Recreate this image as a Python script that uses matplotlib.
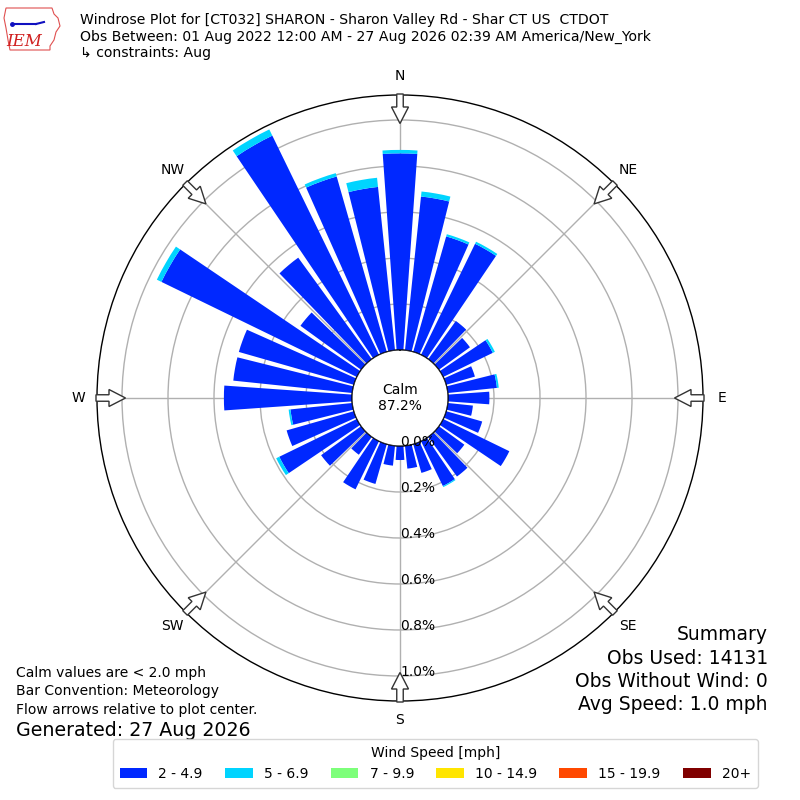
import numpy as np
import matplotlib
matplotlib.use('Agg')
import matplotlib.pyplot as plt
from matplotlib.patches import FancyArrow, Circle, Polygon, Patch

# ---------------- data ----------------
directions = np.arange(0, 360, 10)  # degrees, meteorological "from"
speed_labels = ['2 - 4.9', '5 - 6.9', '7 - 9.9', '10 - 14.9', '15 - 19.9', '20+']
speed_colors = ['#0028ff', '#00d4ff', '#7dff7a', '#ffe500', '#ff4800', '#800000']

# frequency (%) per direction for each speed bin
spd_2_5 = [0.855, 0.672, 0.522, 0.537, 0.205, 0.167, 0.240, 0.130, 0.215,
           0.180, 0.110, 0.163, 0.320, 0.137, 0.213, 0.217, 0.130, 0.100,
           0.061, 0.087, 0.180, 0.233, 0.096, 0.215, 0.375, 0.304, 0.270,
           0.557, 0.520, 0.520, 0.945, 0.326, 0.545, 1.060, 0.793, 0.714]
spd_5_7 = [0.015, 0.022, 0.010, 0.010, 0.0, 0.0, 0.010, 0.0, 0.008,
           0.0, 0.0, 0.0, 0.0, 0.0, 0.0, 0.005, 0.0, 0.0,
           0.0, 0.0, 0.0, 0.0, 0.0, 0.0, 0.015, 0.0, 0.008,
           0.0, 0.0, 0.0, 0.022, 0.0, 0.0, 0.030, 0.015, 0.040]
spd_7_10 = [0.0] * 36
spd_10_15 = [0.0] * 36
spd_15_20 = [0.0] * 36
spd_20p = [0.0] * 36

ring_values = [0.0, 0.2, 0.4, 0.6, 0.8, 1.0]
compass_angles = [0, 45, 90, 135, 180, 225, 270, 315]
compass_labels = ['N', 'NE', 'E', 'SE', 'S', 'SW', 'W', 'NW']

calm_pct = 87.2
title_lines = ['Windrose Plot for [CT032] SHARON - Sharon Valley Rd - Shar CT US  CTDOT',
               'Obs Between: 01 Aug 2022 12:00 AM - 27 Aug 2026 02:39 AM America/New_York',
               '\u21b3 constraints: Aug']
left_notes = ['Calm values are < 2.0 mph', 'Bar Convention: Meteorology',
              'Flow arrows relative to plot center.']
generated = 'Generated: 27 Aug 2026'
summary_lines = ['Summary', 'Obs Used: 14131', 'Obs Without Wind: 0', 'Avg Speed: 1.0 mph']

# ---------------- figure ----------------
fig = plt.figure(figsize=(8, 8), dpi=100)
W = H = 800.0
cx, cy = 400.0, 398.0          # plot centre in pixels (from top-left)
R = 303.0                       # outer radius in pixels
r0 = 48.0                       # calm circle radius in pixels
ppu = 230.0                     # pixels per 1 %
rorig = r0 / ppu
rmax = R / ppu - rorig

ax = fig.add_axes([(cx - R) / W, (H - cy - R) / H, 2 * R / W, 2 * R / H],
                  projection='polar')
ax.set_theta_zero_location('N')
ax.set_theta_direction(-1)
ax.set_rorigin(-rorig)
ax.set_ylim(0, rmax)

series = [spd_2_5, spd_5_7, spd_7_10, spd_10_15, spd_15_20, spd_20p]
theta = np.deg2rad(directions)
bottom = np.zeros(len(directions))
for vals, col in zip(series, speed_colors):
    vals = np.asarray(vals)
    ax.bar(theta, vals, width=np.deg2rad(8.1), bottom=bottom, color=col,
           edgecolor='none', zorder=3)
    bottom += vals

ax.set_rticks(ring_values[1:])
ax.set_yticklabels([])
ax.set_thetagrids(compass_angles, labels=[''] * len(compass_angles))
ax.grid(True, color='#b0b0b0', lw=1.0)
ax.spines['polar'].set_color('black')
ax.spines['polar'].set_linewidth(1.0)

for v in ring_values:
    ax.text(np.pi, v, f'{v:.1f}%', ha='left', va='baseline', fontsize=10,
            zorder=8)

lab_r = 322.0 / ppu - rorig
for a, lab in zip(compass_angles, compass_labels):
    ax.text(np.deg2rad(a), lab_r, lab, ha='center', va='center', fontsize=10,
            clip_on=False)

# calm circle
calm = Circle((0.5, 0.5), r0 / (2 * R), transform=ax.transAxes, fc='white',
              ec='black', lw=1.0, zorder=6)
ax.add_patch(calm)
ax.text(0.5, 0.5, f'Calm\n{calm_pct:.1f}%', transform=ax.transAxes,
        ha='center', va='center', fontsize=10, zorder=7, linespacing=1.25)

# flow arrows (hollow)
fcx, fcy = cx / W, (H - cy) / H
for a in compass_angles:
    s, c = np.sin(np.deg2rad(a)), np.cos(np.deg2rad(a))
    x0 = fcx + s * 304 / W
    y0 = fcy + c * 304 / H
    L = 29.5
    arr = FancyArrow(x0, y0, -s * L / W, -c * L / H, width=6.5 / W,
                     head_width=17 / W, head_length=16.5 / W,
                     length_includes_head=True, fc='white', ec='#333333',
                     lw=1.0, transform=fig.transFigure, zorder=10)
    fig.add_artist(arr)

# title text
for i, line in enumerate(title_lines):
    fig.text(80 / W, 1 - (20 + 16.5 * i) / H, line, ha='left', va='center',
             fontsize=10.1)

# bottom-left notes
for i, line in enumerate(left_notes):
    fig.text(16 / W, 1 - (673 + 18.5 * i) / H, line, ha='left', va='center',
             fontsize=10)
fig.text(16 / W, 1 - 730 / H, generated, ha='left', va='center', fontsize=13.7)

# summary
for i, line in enumerate(summary_lines):
    fig.text(768 / W, 1 - (635 + 23.3 * i) / H, line, ha='right', va='center',
             fontsize=13.5)

# legend
handles = [Patch(facecolor=c, edgecolor='none') for c in speed_colors]
leg = fig.legend(handles, speed_labels, ncol=6, loc='lower center',
                 bbox_to_anchor=(0.544, 12 / H), title='Wind Speed [mph]',
                 fontsize=10, title_fontsize=10, frameon=True,
                 handlelength=2.0, columnspacing=1.6, borderpad=0.5,
                 borderaxespad=0.0)
leg.get_frame().set_edgecolor('#cccccc')

# simple IEM logo stand-in
lax = fig.add_axes([0.0, 1 - 52 / H, 66 / W, 48 / H])
lax.set_xlim(0, 66)
lax.set_ylim(0, 48)
lax.axis('off')
iowa = Polygon([(6, 44), (52, 44), (54, 38), (58, 34), (60, 26), (56, 20),
                (54, 12), (50, 6), (50, 2), (10, 2), (8, 12), (6, 24), (4, 34)],
               closed=True, fc='white', ec='#e05050', lw=0.8)
lax.add_patch(iowa)
lax.plot([14, 36], [28, 28], color='#1010c0', lw=1.5)
lax.plot([36, 44], [28, 30], color='#1010c0', lw=1.5)
lax.plot([12], [28], 'o', color='#1010c0', ms=2.5)
lax.text(24, 11, 'IEM', color='#d02020', fontsize=12, family='DejaVu Serif',
         style='italic', ha='center', va='center')

fig.savefig('out.png', dpi=100)
